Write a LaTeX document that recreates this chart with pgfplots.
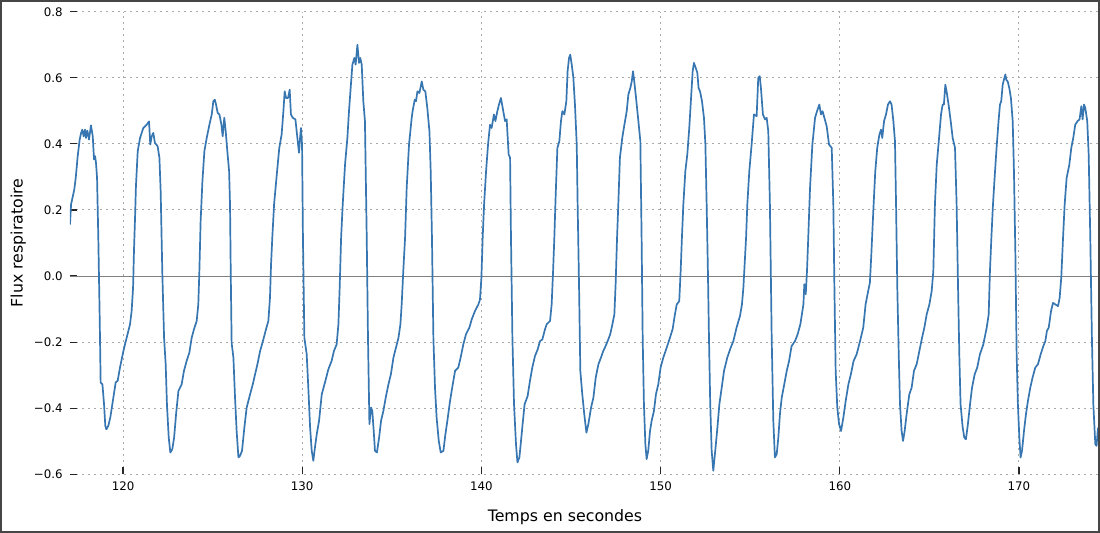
\documentclass[border=0pt]{standalone}
\usepackage{fontspec}
\setmainfont{DejaVu Sans}
\usepackage{pgfplots}
\pgfplotsset{compat=1.18}
\definecolor{flux}{RGB}{55,118,176}
\definecolor{gridc}{RGB}{170,170,170}
\definecolor{zeroc}{RGB}{128,128,128}
\definecolor{framec}{RGB}{70,70,70}
\begin{document}
\begin{tikzpicture}
\begin{axis}[
  width=514pt, height=231.3pt, scale only axis,
  xmin=117.04, xmax=174.41, ymin=-0.6, ymax=0.8,
  axis line style={draw=none},
  xtick={120,130,140,150,160,170},
  xticklabels={120,130,140,150,160,170},
  ytick={-0.6,-0.4,-0.2,0,0.2,0.4,0.6,0.8},
  yticklabels={−0.6,−0.4,−0.2,0.0,0.2,0.4,0.6,0.8},
  tick align=inside, tickpos=left,
  major tick length=3.75pt,
  tick style={black!85, line width=0.6pt},
  grid=major,
  major grid style={gridc, dash pattern=on 1pt off 2pt, line width=0.5pt},
  tick label style={font=\fontsize{5.9}{7}\selectfont},
  yticklabel style={inner sep=0pt, xshift=-3.5pt},
  xticklabel style={inner sep=0pt, yshift=-3.6pt},
  label style={font=\fontsize{7.9}{9}\selectfont},
  xlabel={Temps en secondes},
  ylabel={Flux respiratoire},
  xlabel style={at={(axis description cs:0.4815,-0.0925)}, anchor=center},
  ylabel style={at={(axis description cs:-0.0503,0.5)}, anchor=center},
]
\addplot[zeroc, line width=0.5pt, forget plot] coordinates {(117.04,0) (174.41,0)};
\addplot[flux, line width=0.85pt, line join=round] table {
x y
117.04 0.156
117.10 0.217
117.28 0.262
117.36 0.297
117.47 0.363
117.58 0.413
117.66 0.433
117.73 0.443
117.80 0.423
117.88 0.443
117.93 0.418
118.01 0.440
118.10 0.413
118.21 0.456
118.31 0.423
118.38 0.353
118.44 0.363
118.49 0.343
118.55 0.297
118.62 0.116
118.70 -0.136
118.75 -0.322
118.85 -0.328
118.94 -0.388
119.01 -0.453
119.07 -0.464
119.18 -0.453
119.29 -0.428
119.46 -0.368
119.59 -0.322
119.70 -0.317
119.83 -0.277
120.02 -0.227
120.20 -0.187
120.39 -0.146
120.48 -0.106
120.56 -0.035
120.61 0.076
120.67 0.176
120.72 0.272
120.82 0.378
120.95 0.418
121.13 0.448
121.32 0.458
121.45 0.468
121.52 0.398
121.60 0.423
121.69 0.433
121.78 0.403
121.93 0.393
122.03 0.358
122.10 0.257
122.19 0.015
122.29 -0.187
122.38 -0.267
122.45 -0.388
122.55 -0.489
122.64 -0.534
122.75 -0.524
122.85 -0.489
122.96 -0.418
123.09 -0.348
123.27 -0.328
123.40 -0.287
123.55 -0.257
123.70 -0.232
123.83 -0.187
123.96 -0.161
124.11 -0.136
124.20 -0.086
124.26 0.015
124.33 0.166
124.43 0.287
124.54 0.378
124.67 0.418
124.82 0.458
124.95 0.489
125.04 0.529
125.12 0.534
125.19 0.519
125.28 0.494
125.38 0.489
125.49 0.458
125.56 0.423
125.65 0.479
125.73 0.438
125.82 0.378
125.92 0.317
125.97 0.217
126.01 0.015
126.06 -0.202
126.16 -0.247
126.25 -0.368
126.34 -0.469
126.44 -0.549
126.53 -0.544
126.64 -0.529
126.77 -0.459
126.90 -0.398
127.09 -0.358
127.24 -0.328
127.37 -0.297
127.50 -0.267
127.65 -0.227
127.83 -0.192
127.98 -0.161
128.11 -0.136
128.20 -0.066
128.26 0.035
128.33 0.116
128.43 0.217
128.58 0.307
128.72 0.388
128.85 0.428
128.95 0.499
129.02 0.559
129.10 0.539
129.21 0.539
129.30 0.564
129.37 0.489
129.47 0.479
129.62 0.474
129.75 0.408
129.82 0.373
129.88 0.418
129.93 0.448
129.99 0.398
130.04 0.116
130.12 -0.187
130.25 -0.237
130.34 -0.338
130.44 -0.459
130.53 -0.529
130.62 -0.559
130.71 -0.519
130.81 -0.479
130.94 -0.438
131.09 -0.358
131.27 -0.322
131.46 -0.282
131.64 -0.257
131.77 -0.227
131.92 -0.207
132.02 -0.146
132.09 -0.035
132.17 0.116
132.26 0.217
132.39 0.338
132.52 0.418
132.61 0.499
132.69 0.559
132.80 0.640
132.91 0.660
132.98 0.640
133.08 0.700
133.17 0.645
133.24 0.660
133.32 0.640
133.41 0.529
133.50 0.469
133.60 0.116
133.67 -0.187
133.75 -0.448
133.84 -0.398
133.91 -0.408
133.99 -0.469
134.06 -0.529
134.17 -0.534
134.29 -0.489
134.40 -0.438
134.53 -0.408
134.66 -0.368
134.81 -0.328
134.95 -0.297
135.09 -0.247
135.23 -0.217
135.37 -0.187
135.48 -0.146
135.55 -0.086
135.64 0.015
135.74 0.116
135.83 0.267
135.96 0.398
136.11 0.479
136.16 0.499
136.28 0.534
136.35 0.529
136.43 0.559
136.54 0.554
136.67 0.589
136.76 0.564
136.87 0.559
136.98 0.509
137.10 0.438
137.17 0.317
137.24 0.116
137.32 -0.187
137.41 -0.338
137.50 -0.428
137.62 -0.499
137.73 -0.534
137.88 -0.529
137.99 -0.479
138.10 -0.438
138.25 -0.378
138.40 -0.328
138.53 -0.287
138.71 -0.277
138.84 -0.247
138.99 -0.207
139.14 -0.176
139.33 -0.156
139.46 -0.131
139.64 -0.106
139.83 -0.086
139.92 -0.071
140.00 -0.005
140.07 0.116
140.15 0.217
140.26 0.317
140.37 0.398
140.48 0.458
140.57 0.448
140.70 0.489
140.78 0.469
140.89 0.499
140.98 0.519
141.09 0.539
141.22 0.499
141.32 0.469
141.41 0.474
141.52 0.368
141.60 0.358
141.65 0.116
141.73 -0.187
141.82 -0.388
141.93 -0.509
142.01 -0.564
142.12 -0.549
142.21 -0.499
142.30 -0.448
142.41 -0.388
142.58 -0.363
142.71 -0.317
142.84 -0.277
142.99 -0.242
143.14 -0.222
143.27 -0.197
143.40 -0.192
143.55 -0.161
143.64 -0.146
143.83 -0.136
143.92 -0.086
144.00 0.015
144.07 0.116
144.14 0.237
144.24 0.388
144.35 0.408
144.44 0.469
144.52 0.499
144.63 0.489
144.74 0.529
144.81 0.620
144.89 0.660
144.96 0.670
145.04 0.640
145.13 0.601
145.22 0.519
145.32 0.398
145.37 0.217
145.45 -0.035
145.52 -0.287
145.63 -0.358
145.74 -0.418
145.86 -0.474
145.97 -0.448
146.12 -0.398
146.25 -0.368
146.38 -0.307
146.53 -0.267
146.67 -0.247
146.80 -0.227
146.93 -0.212
147.08 -0.192
147.19 -0.176
147.31 -0.146
147.42 -0.116
147.49 -0.025
147.57 0.116
147.64 0.217
147.73 0.358
147.86 0.418
147.98 0.458
148.11 0.499
148.20 0.549
148.31 0.569
148.39 0.589
148.46 0.620
148.53 0.589
148.63 0.539
148.76 0.469
148.87 0.408
148.94 0.116
149.00 -0.187
149.07 -0.388
149.15 -0.509
149.22 -0.554
149.31 -0.529
149.41 -0.469
149.50 -0.438
149.63 -0.408
149.74 -0.358
149.87 -0.328
150.00 -0.277
150.15 -0.247
150.34 -0.217
150.52 -0.187
150.67 -0.161
150.80 -0.116
150.90 -0.086
151.04 -0.076
151.12 0.015
151.19 0.116
151.27 0.217
151.38 0.317
151.49 0.368
151.60 0.448
151.70 0.539
151.79 0.620
151.86 0.645
151.96 0.630
152.05 0.615
152.12 0.569
152.20 0.559
152.31 0.529
152.42 0.479
152.50 0.398
152.57 0.217
152.64 0.015
152.70 -0.187
152.77 -0.388
152.85 -0.529
152.94 -0.589
153.05 -0.529
153.17 -0.459
153.28 -0.388
153.41 -0.338
153.54 -0.287
153.72 -0.247
153.91 -0.217
154.06 -0.197
154.24 -0.156
154.43 -0.121
154.54 -0.086
154.62 -0.035
154.67 0.015
154.77 0.116
154.84 0.217
154.95 0.317
155.08 0.398
155.21 0.489
155.36 0.484
155.45 0.600
155.53 0.605
155.60 0.569
155.71 0.489
155.83 0.474
155.92 0.479
156.01 0.438
156.10 0.217
156.20 -0.187
156.29 -0.438
156.38 -0.549
156.48 -0.539
156.57 -0.489
156.66 -0.418
156.76 -0.368
156.90 -0.328
157.04 -0.287
157.17 -0.257
157.31 -0.212
157.50 -0.197
157.65 -0.176
157.80 -0.146
157.97 -0.086
158.02 -0.025
158.10 -0.055
158.17 0.015
158.24 0.116
158.34 0.267
158.47 0.398
158.62 0.479
158.73 0.499
158.86 0.519
158.95 0.489
159.04 0.499
159.14 0.479
159.27 0.453
159.40 0.398
159.55 0.388
159.64 0.217
159.70 -0.035
159.77 -0.287
159.86 -0.398
159.96 -0.448
160.07 -0.469
160.20 -0.428
160.33 -0.378
160.48 -0.328
160.62 -0.297
160.77 -0.257
160.94 -0.237
161.13 -0.197
161.31 -0.156
161.44 -0.086
161.55 -0.055
161.68 -0.020
161.76 0.065
161.87 0.196
161.98 0.317
162.09 0.388
162.21 0.428
162.30 0.443
162.37 0.418
162.47 0.469
162.58 0.489
162.69 0.519
162.80 0.529
162.89 0.519
162.99 0.469
163.08 0.408
163.14 0.217
163.21 -0.035
163.29 -0.237
163.36 -0.388
163.45 -0.469
163.53 -0.499
163.62 -0.469
163.73 -0.418
163.88 -0.358
164.01 -0.338
164.14 -0.287
164.29 -0.267
164.44 -0.227
164.59 -0.187
164.72 -0.156
164.85 -0.116
165.00 -0.086
165.13 -0.045
165.22 0.015
165.31 0.217
165.41 0.337
165.54 0.418
165.65 0.489
165.74 0.519
165.81 0.519
165.89 0.579
165.96 0.559
166.07 0.519
166.19 0.469
166.30 0.418
166.43 0.388
166.52 0.217
166.60 -0.035
166.67 -0.237
166.74 -0.388
166.86 -0.459
166.95 -0.489
167.04 -0.494
167.15 -0.448
167.27 -0.388
167.38 -0.338
167.53 -0.297
167.67 -0.277
167.82 -0.237
168.01 -0.207
168.20 -0.156
168.31 -0.116
168.38 0.015
168.46 0.116
168.55 0.217
168.64 0.297
168.75 0.388
168.86 0.469
168.94 0.519
169.01 0.529
169.09 0.579
169.16 0.594
169.24 0.610
169.29 0.594
169.37 0.589
169.46 0.569
169.55 0.539
169.65 0.469
169.72 0.317
169.80 0.065
169.87 -0.237
169.94 -0.388
170.02 -0.489
170.09 -0.549
170.17 -0.529
170.28 -0.469
170.39 -0.418
170.50 -0.378
170.63 -0.338
170.76 -0.307
170.91 -0.277
171.06 -0.267
171.21 -0.237
171.36 -0.212
171.47 -0.197
171.56 -0.166
171.66 -0.156
171.79 -0.106
171.90 -0.081
172.03 -0.086
172.18 -0.091
172.27 -0.066
172.36 -0.005
172.46 0.116
172.55 0.217
172.66 0.297
172.81 0.337
172.92 0.388
173.03 0.418
173.14 0.458
173.27 0.469
173.38 0.474
173.48 0.514
173.55 0.474
173.63 0.519
173.70 0.509
173.81 0.469
173.89 0.368
173.98 0.116
174.07 -0.187
174.15 -0.388
174.26 -0.509
174.33 -0.514
174.41 -0.459
};
\end{axis}
\draw[framec, line width=1pt] (-34.5pt,-28.85pt) rectangle (514.5pt,236.65pt);
\end{tikzpicture}
\end{document}
